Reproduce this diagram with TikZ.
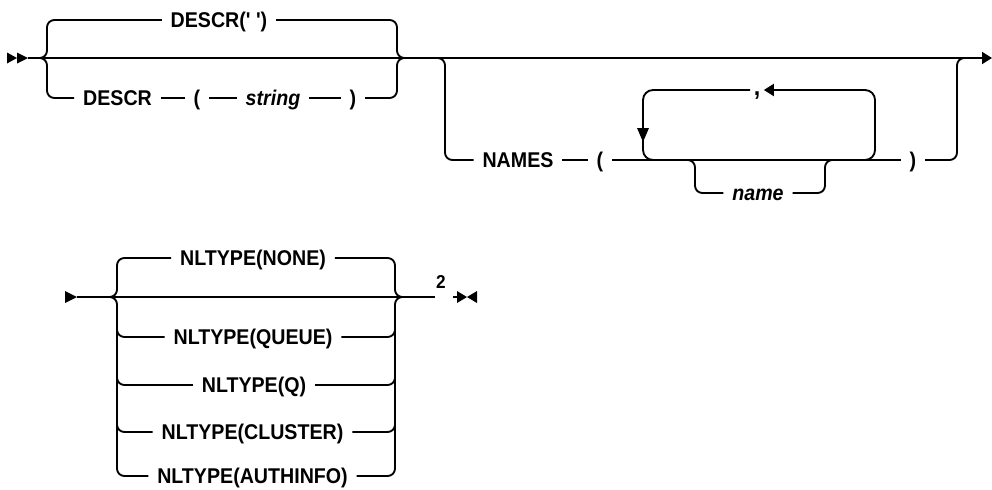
\documentclass[tikz,border=0pt]{standalone}
\usepackage{fontspec}
\setmainfont{Liberation Sans}[Ligatures=TeXOff, FakeStretch=0.92]
\usetikzlibrary{arrows.meta}
\tikzset{
  lbl/.style={font=\fontsize{16pt}{18pt}\selectfont\bfseries, inner xsep=6pt, inner ysep=0pt, text height=11.4pt, text depth=0pt},
  var/.style={lbl, font=\fontsize{16pt}{18pt}\selectfont\bfseries\itshape},
  rc/.style={rounded corners=5.5pt},
  lp/.style={rounded corners=7.5pt},
  tip/.style={-{Triangle[length=7.5pt,width=9pt]}}
}
\begin{document}
\begin{tikzpicture}[x=0.75pt,y=-0.75pt,line width=1.4pt]
\useasboundingbox (0,0) rectangle (992,489);
% ---------- row 1 ----------
\fill (7,52.5) -- (17,58) -- (7,63.5) -- cycle;
\fill (17,52.5) -- (28,58) -- (17,63.5) -- cycle;
\coordinate (s1) at (28,58);
\coordinate (e1) at (992,58);
\draw[tip] (s1) -- (e1);
% group 1
\coordinate (g1a) at (39,58);
\coordinate (g1b) at (405,58);
\node[lbl] (d0) at (219,20) {DESCR(' ')};
\node[lbl] (d1) at (117.5,98) {DESCR};
\node[lbl] (lp1) at (197,98) {(};
\node[var] (str) at (273,98) {string};
\node[lbl] (rp1) at (353,98) {)};
\draw[rc] (g1a) -- (47,58) -- (47,20) -- (d0.west);
\draw[rc] (d0.east) -- (397,20) -- (397,58) -- (g1b);
\draw[rc] (g1a) -- (47,58) -- (47,98) -- (d1.west);
\draw (d1.east) -- (lp1.west) (lp1.east) -- (str.west) (str.east) -- (rp1.west);
\draw[rc] (rp1.east) -- (397,98) -- (397,58) -- (g1b);
% group 2
\coordinate (g2a) at (437,58);
\coordinate (g2b) at (965,58);
\node[lbl] (names) at (518,160) {NAMES};
\node[lbl] (lp2) at (600,160) {(};
\node[lbl] (rp2) at (913,160) {)};
\node[var] (nm) at (758,193) {name};
\node[lbl, font=\fontsize{19pt}{20pt}\selectfont\bfseries, inner xsep=2pt, text height=8pt] (comma) at (757,90) {,};
\draw[rc] (g2a) -- (445,58) -- (445,160) -- (names.west);
\draw (names.east) -- (lp2.west);
\draw (lp2.east) -- (rp2.west);
\draw[rc] (rp2.east) -- (957,160) -- (957,58) -- (g2b);
% repeat loop
\draw[lp, tip] (863,160) -- (875,160) -- (875,90) -- (comma.east);
\draw[lp] (comma.west) -- (643,90) -- (643,160) -- (655,160);
\fill (637,128) -- (649,128) -- (643,142) -- cycle;
% name branch
\draw[rc] (687,160) -- (695,160) -- (695,193) -- (nm.west);
\draw[rc] (nm.east) -- (825,193) -- (825,160) -- (833,160);
% ---------- row 2 ----------
\fill (65,291) -- (77,297) -- (65,303) -- cycle;
\coordinate (s2) at (77,297);
\coordinate (g3a) at (108,297);
\coordinate (g3b) at (403,297);
\coordinate (e2) at (435,297);
\draw (s2) -- (e2);
\node[lbl] (n0) at (253,258) {NLTYPE(NONE)};
\node[lbl] (n1) at (253,337) {NLTYPE(QUEUE)};
\node[lbl] (n2) at (254,385) {NLTYPE(Q)};
\node[lbl] (n3) at (252.5,432) {NLTYPE(CLUSTER)};
\node[lbl] (n4) at (252.5,476) {NLTYPE(AUTHINFO)};
\draw[rc] (g3a) -- (117,297) -- (117,258) -- (n0.west);
\draw[rc] (g3a) -- (117,297) -- (117,476) -- (n4.west);
\draw[rc] (117,329) -- (117,337) -- (n1.west);
\draw[rc] (117,377) -- (117,385) -- (n2.west);
\draw[rc] (117,424) -- (117,432) -- (n3.west);
\draw[rc] (n0.east) -- (395,258) -- (395,297) -- (g3b);
\draw[rc] (n4.east) -- (395,476) -- (395,297) -- (g3b);
\draw[rc] (n1.east) -- (395,337) -- (395,329);
\draw[rc] (n2.east) -- (395,385) -- (395,377);
\draw[rc] (n3.east) -- (395,432) -- (395,424);
% footnote and end marker
\node[font=\fontsize{14pt}{15pt}\selectfont\bfseries, inner sep=0pt] (fn) at (441,282) {2};
\coordinate (m1) at (453,297);
\coordinate (m2) at (457,297);
\draw (m1) -- (m2);
\fill (457,291) -- (467,297) -- (457,303) -- cycle;
\fill (477,291) -- (467,297) -- (477,303) -- cycle;
\end{tikzpicture}
\end{document}
